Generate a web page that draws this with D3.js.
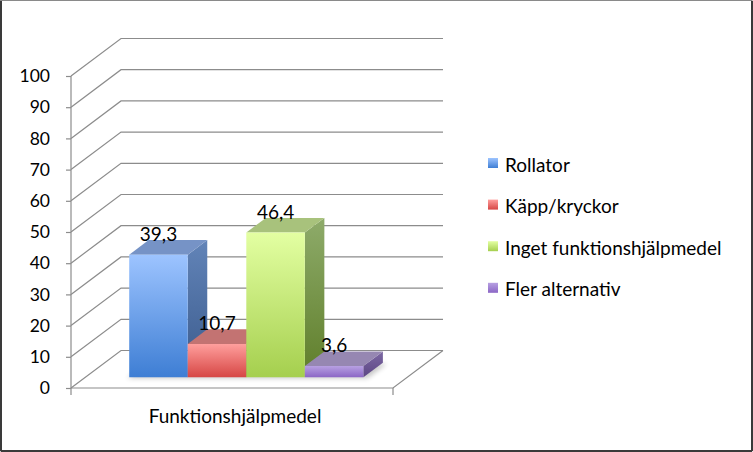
<!DOCTYPE html>
<html>
<head>
<meta charset="utf-8">
<script src="https://cdn.jsdelivr.net/npm/d3@7"></script>
<style>
  body{margin:0;background:#fff;}
  svg{display:block;font-family:Lato,"Open Sans",sans-serif;}
</style>
</head>
<body>
<div id="graf"></div>
<script>
// data
const kategorier=['Funktionshjälpmedel'];
const serier=['Rollator','Käpp/kryckor','Inget funktionshjälpmedel','Fler alternativ'];
const varden=[39.3,10.7,46.4,3.6];
const yTicks=[0,10,20,30,40,50,60,70,80,90,100];

// färger: framsida topp/botten, sida topp/botten, ovansida
const farger=[
  {ft:'#9dc4ff',fb:'#3e7ed4',st:'#6284b8',sb:'#3a5a8c',top:'#7693c6'},
  {ft:'#ff9f9d',fb:'#d64644',st:'#b05a58',sb:'#8c3634',top:'#c37372'},
  {ft:'#e3ffa2',fb:'#a5cf4e',st:'#8eab6a',sb:'#5f7e2a',top:'#a8c27c'},
  {ft:'#b7a0e2',fb:'#8b66c5',st:'#7c68a3',sb:'#5d4684',top:'#9687b2'}
];

const W=753, H=452;
const djupX=50, djupY=-37.5; //hela djupet i 3d
const barDjup=[0.286,0.676]; //stapelns fram/bak i djupet
const fs=19; //textstorlek

const svg=d3.select('#graf').append('svg')
  .attr('width',W).attr('height',H);

const defs=svg.append('defs');
farger.forEach((c,i)=>{
  const g=defs.append('linearGradient').attr('id','fram'+i)
    .attr('x1',0).attr('y1',0).attr('x2',0).attr('y2',1);
  g.append('stop').attr('offset','0%').attr('stop-color',c.ft);
  g.append('stop').attr('offset','100%').attr('stop-color',c.fb);
  const s=defs.append('linearGradient').attr('id','sida'+i)
    .attr('x1',0).attr('y1',0).attr('x2',0).attr('y2',1);
  s.append('stop').attr('offset','0%').attr('stop-color',c.st);
  s.append('stop').attr('offset','100%').attr('stop-color',c.sb);
});
defs.append('filter').attr('id','skugga')
  .attr('x','-20%').attr('y','-50%').attr('width','140%').attr('height','200%')
  .append('feGaussianBlur').attr('stdDeviation',2.5);

// ram
svg.append('rect').attr('x',0.5).attr('y',0.5).attr('width',W-1.5).attr('height',H-1.5)
  .attr('fill','#fff').attr('stroke','#8a8a8a').attr('stroke-width',1);
svg.append('line').attr('x1',1).attr('y1',1).attr('x2',1).attr('y2',H-1)
  .attr('stroke','#3a3a3a').attr('stroke-width',2);
svg.append('line').attr('x1',W-1).attr('y1',1).attr('x2',W-1).attr('y2',H-1)
  .attr('stroke','#3a3a3a').attr('stroke-width',2);
svg.append('line').attr('x1',1).attr('y1',H-1).attr('x2',W-1).attr('y2',H-1)
  .attr('stroke','#3a3a3a').attr('stroke-width',2);

// skalor
const y=d3.scaleLinear().domain([0,100]).range([388,76]);
const x0=d3.scaleBand().domain(kategorier).range([71,393]).padding(0);
const x1=d3.scaleBand().domain(serier).range([0,x0.bandwidth()]).paddingInner(0).paddingOuter(0.75);

const P=(x,yy,d)=>[x+d*djupX, yy+d*djupY]; //projektion

const gridColor='#8c8c8c';

// rutnät: sidovägg + bakvägg
svg.append('g').selectAll('path').data(yTicks).join('path')
  .attr('d',t=>{
    const a=[x0.range()[0],y(t)];
    const b=P(x0.range()[0],y(t),1);
    const c=P(x0.range()[1],y(t),1);
    return 'M'+a+' L'+b+' L'+c;
  })
  .attr('fill','none').attr('stroke',gridColor).attr('stroke-width',1.2);

// golv
const fr=[x0.range()[1],y(0)];
const bk=P(x0.range()[1],y(0),1);
svg.append('path')
  .attr('d','M'+[x0.range()[0],y(0)]+' L'+fr+' L'+bk)
  .attr('fill','none').attr('stroke',gridColor).attr('stroke-width',1.2);

// y-axel
const yAxel=svg.append('g').attr('transform','translate('+x0.range()[0]+',0)')
  .call(d3.axisLeft(y).tickValues(yTicks).tickSize(5).tickPadding(16).tickFormat(d3.format('d')));
yAxel.select('.domain').remove();
yAxel.selectAll('line').attr('stroke',gridColor).attr('stroke-width',1.2);
yAxel.selectAll('text').attr('font-size',17.5).attr('fill','#000').attr('font-family','Lato,"Open Sans",sans-serif');
svg.append('line').attr('x1',x0.range()[0]).attr('x2',x0.range()[0])
  .attr('y1',y(100)).attr('y2',y(0)+7).attr('stroke',gridColor).attr('stroke-width',1.2);
svg.append('line').attr('x1',x0.range()[1]).attr('x2',x0.range()[1])
  .attr('y1',y(0)).attr('y2',y(0)+7).attr('stroke',gridColor).attr('stroke-width',1.2);

// staplar
const staplar=serier.map((s,i)=>({namn:s,v:varden[i],i:i}));
const bx=d=>x0(kategorier[0])+x1(d.namn);
const bw=x1.bandwidth();

// skugga på golvet
const f0=barDjup[0], f1=barDjup[1];
const sA=P(bx(staplar[0]),y(0),f0), sB=P(bx(staplar[3])+bw,y(0),f0);
svg.append('path')
  .attr('d','M'+[sA[0]-2,sA[1]+1]+' L'+[sB[0]+4,sB[1]+1]+' L'+P(sB[0]+4,sB[1]+1,f1-f0)+' L'+P(sA[0]-2,sA[1]+1,f1-f0)+'Z')
  .attr('fill','#000').attr('opacity',0.22).attr('filter','url(#skugga)');

const gBar=svg.append('g');
staplar.forEach(d=>{
  const xl=bx(d), xr=bx(d)+bw;
  const yt=y(d.v), yb=y(0);
  const a=P(xl,yt,f0), b=P(xr,yt,f0), c=P(xr,yb,f0), e=P(xl,yb,f0);
  const b2=P(xr,yt,f1), c2=P(xr,yb,f1), a2=P(xl,yt,f1);
  // sida
  gBar.append('path').attr('d','M'+b+' L'+b2+' L'+c2+' L'+c+'Z')
    .attr('fill','url(#sida'+d.i+')');
  // ovansida
  gBar.append('path').attr('d','M'+a+' L'+a2+' L'+b2+' L'+b+'Z')
    .attr('fill',farger[d.i].top);
  // framsida
  gBar.append('path').attr('d','M'+a+' L'+b+' L'+c+' L'+e+'Z')
    .attr('fill','url(#fram'+d.i+')');
});

// etiketter
const fmt=d3.formatLocale({decimal:',',thousands:' ',grouping:[3],currency:['','']}).format('.1f');
svg.append('g').selectAll('text').data(staplar).join('text')
  .attr('x',d=>P(bx(d)+bw/2,y(d.v),f0)[0])
  .attr('y',d=>P(bx(d)+bw/2,y(d.v),f0)[1]-14)
  .attr('text-anchor','middle')
  .attr('font-size',fs)
  .text(d=>fmt(d.v));

// kategori
svg.append('text')
  .attr('x',x0(kategorier[0])+x0.bandwidth()/2+3)
  .attr('y',423)
  .attr('text-anchor','middle')
  .attr('font-size',fs)
  .text(kategorier[0]);

// förklaring
const leg=svg.append('g').attr('transform','translate(488,158)');
const rad=leg.selectAll('g').data(serier).join('g')
  .attr('transform',(d,i)=>'translate(0,'+(i*41.6)+')');
rad.append('rect').attr('width',10).attr('height',10)
  .attr('fill',(d,i)=>'url(#fram'+i+')');
rad.append('text').attr('x',17).attr('y',13.5)
  .attr('font-size',fs)
  .text(d=>d);
</script>
</body>
</html>
